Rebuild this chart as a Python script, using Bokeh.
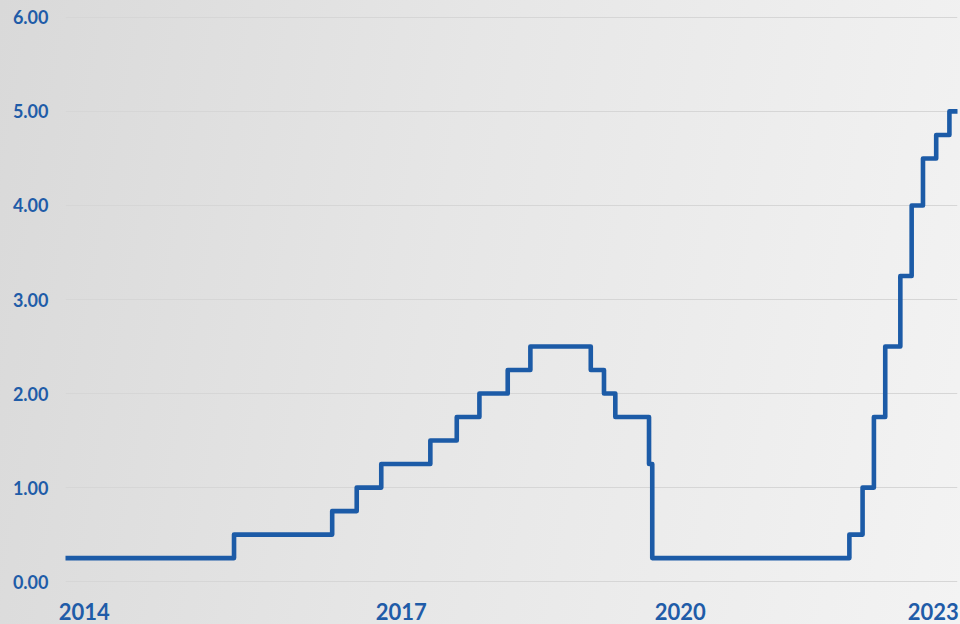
import pandas as pd
from bokeh.plotting import figure
from bokeh.models import (Range1d, FixedTicker, NumeralTickFormatter,
                          ColumnDataSource)
from bokeh.embed import file_html
from bokeh.resources import INLINE

# Fed funds target (upper bound), step changes
dates = ["2014-04-01", "2015-12-17", "2016-12-15", "2017-03-16", "2017-06-15",
         "2017-12-14", "2018-03-22", "2018-06-14", "2018-09-27", "2018-12-20",
         "2019-08-01", "2019-09-19", "2019-10-31", "2020-03-04", "2020-03-16",
         "2022-03-17", "2022-05-05", "2022-06-16", "2022-07-28", "2022-09-22",
         "2022-11-03", "2022-12-15", "2023-02-02", "2023-03-23", "2023-04-22"]
rates = [0.25, 0.50, 0.75, 1.00, 1.25,
         1.50, 1.75, 2.00, 2.25, 2.50,
         2.25, 2.00, 1.75, 1.25, 0.25,
         0.50, 1.00, 1.75, 2.50, 3.25,
         4.00, 4.50, 4.75, 5.00, 5.00]

y_ticks = [0, 1, 2, 3, 4, 5, 6]
x_tick_dates = ["2014-06-10", "2017-08-28", "2020-06-28", "2023-01-22"]
x_tick_labels = ["2014", "2017", "2020", "2023"]

BLUE = "#1c5ba7"
LABEL = "#1f5ca8"

dt = pd.to_datetime(dates)
src = ColumnDataSource(dict(x=dt, y=rates))

p = figure(width=960, height=624, x_axis_type="datetime",
           output_backend="svg", toolbar_location=None,
           x_range=Range1d(dt[0], dt[-1]), y_range=Range1d(-0.02, 6.02),
           min_border_left=65, min_border_right=3, min_border_top=15,
           min_border_bottom=41)

p.step("x", "y", source=src, mode="after", line_color=BLUE, line_width=4.6,
       line_join="round", line_cap="round")

tick_ms = [pd.Timestamp(d).value / 1e6 for d in x_tick_dates]
p.xaxis.ticker = FixedTicker(ticks=tick_ms)
p.xaxis.major_label_overrides = {t: l for t, l in zip(tick_ms, x_tick_labels)}
p.yaxis.ticker = FixedTicker(ticks=y_ticks)
p.yaxis.formatter = NumeralTickFormatter(format="0.00")

for ax in (p.xaxis, p.yaxis):
    ax.axis_line_color = None
    ax.major_tick_line_color = None
    ax.minor_tick_line_color = None
    ax.major_label_text_color = LABEL
    ax.major_label_text_font = "Lato"
    ax.major_label_text_font_style = "bold"
p.yaxis.major_label_text_font_size = "18px"
p.xaxis.major_label_text_font_size = "22px"
p.yaxis.major_label_standoff = 11
p.xaxis.major_label_standoff = 13

p.xgrid.grid_line_color = None
p.ygrid.grid_line_color = "#d6d6d6"
p.ygrid.grid_line_width = 1.2

p.outline_line_color = None
p.background_fill_color = None
p.border_fill_color = None
p.styles = {"background": "linear-gradient(100deg, #d9d9d9 0%, #e6e6e6 45%, #f3f3f3 100%)"}

open("out.html", "w").write(file_html(p, INLINE))
